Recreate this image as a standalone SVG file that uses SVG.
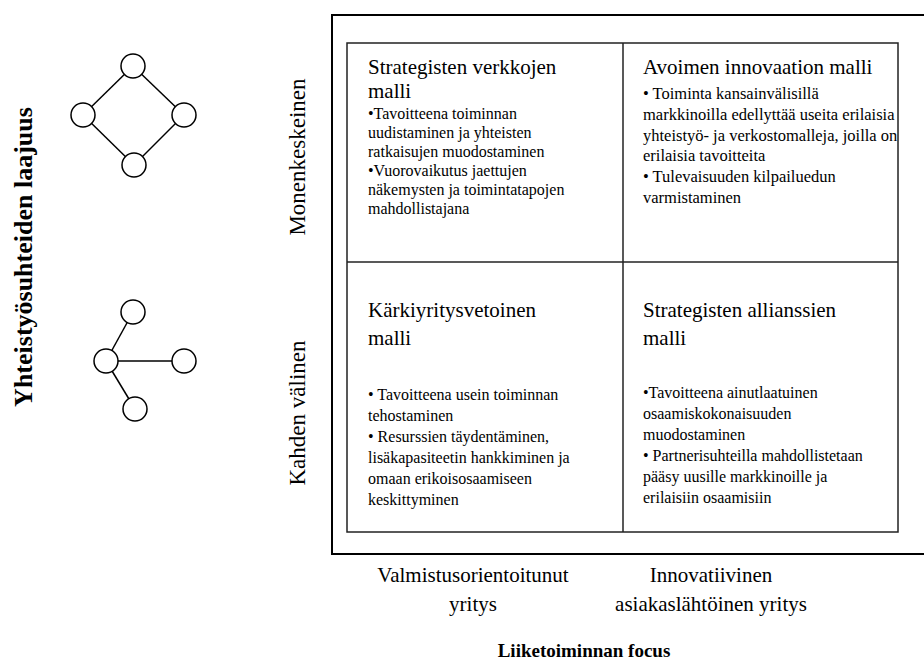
<svg xmlns="http://www.w3.org/2000/svg" width="924" height="666" viewBox="0 0 924 666">
<style>
text{font-family:"Liberation Serif","Times New Roman",serif;fill:#000}
.t{font-size:21px}
.b{font-size:16px}
.br{font-size:16.5px}
.ax{font-size:23px}
.lbl{font-size:21px;text-anchor:middle}
.bold{font-weight:bold}
.cell{fill:none;stroke:#222;stroke-width:1.5}
.node{fill:#fff;stroke:#000;stroke-width:1.5}
.edge{stroke:#000;stroke-width:1.5}
</style>
<rect width="924" height="666" fill="#fff"/>
<g id="frame">
<path d="M930 15 H332 V554 H930" fill="none" stroke="#000" stroke-width="2"/>
<rect class="cell" x="347" y="43" width="551" height="489"/>
<line class="cell" x1="623" y1="43" x2="623" y2="532"/>
<line class="cell" x1="347" y1="262" x2="898" y2="262"/>
</g>
<g id="connectors">
<line class="edge" x1="133" y1="66" x2="83" y2="115"/>
<line class="edge" x1="133" y1="66" x2="184" y2="115"/>
<line class="edge" x1="83" y1="115" x2="134" y2="165"/>
<line class="edge" x1="184" y1="115" x2="134" y2="165"/>
<line class="edge" x1="106" y1="361" x2="133" y2="312"/>
<line class="edge" x1="106" y1="361" x2="184" y2="361"/>
<line class="edge" x1="106" y1="361" x2="135" y2="409"/>
</g>
<g id="icon-multi">
<circle class="node" cx="133" cy="66" r="12"/>
<circle class="node" cx="83" cy="115" r="12"/>
<circle class="node" cx="184" cy="115" r="12"/>
<circle class="node" cx="134" cy="165" r="12"/>
</g>
<g id="icon-bilateral">
<circle class="node" cx="133" cy="312" r="12"/>
<circle class="node" cx="106" cy="361" r="12"/>
<circle class="node" cx="184" cy="361" r="12"/>
<circle class="node" cx="135" cy="409" r="12"/>
</g>
<g id="q-top-left">
<text class="t" x="368" y="74">Strategisten verkkojen</text>
<text class="t" x="368" y="98">malli</text>
<text class="b" x="368" y="119">•Tavoitteena toiminnan</text>
<text class="b" x="368" y="138">uudistaminen ja yhteisten</text>
<text class="b" x="368" y="157">ratkaisujen muodostaminen</text>
<text class="b" x="368" y="176">•Vuorovaikutus jaettujen</text>
<text class="b" x="368" y="195">näkemysten ja toimintatapojen</text>
<text class="b" x="368" y="214">mahdollistajana</text>
</g>
<g id="q-top-right">
<text class="t" x="643" y="74">Avoimen innovaation malli</text>
<text class="br" x="643" y="99">• Toiminta kansainvälisillä</text>
<text class="br" x="643" y="120">markkinoilla edellyttää useita erilaisia</text>
<text class="br" x="643" y="141">yhteistyö- ja verkostomalleja, joilla on</text>
<text class="br" x="643" y="161">erilaisia tavoitteita</text>
<text class="br" x="643" y="182">• Tulevaisuuden kilpailuedun</text>
<text class="br" x="643" y="203">varmistaminen</text>
</g>
<g id="q-bottom-left">
<text class="t" x="368" y="317">Kärkiyritysvetoinen</text>
<text class="t" x="368" y="345">malli</text>
<text class="b" x="368" y="400">• Tavoitteena usein toiminnan</text>
<text class="b" x="368" y="421">tehostaminen</text>
<text class="b" x="368" y="442">• Resurssien täydentäminen,</text>
<text class="b" x="368" y="463">lisäkapasiteetin hankkiminen ja</text>
<text class="b" x="368" y="484">omaan erikoisosaamiseen</text>
<text class="b" x="368" y="505">keskittyminen</text>
</g>
<g id="q-bottom-right">
<text class="t" x="643" y="317">Strategisten allianssien</text>
<text class="t" x="643" y="345">malli</text>
<text class="b" x="643" y="398">•Tavoitteena ainutlaatuinen</text>
<text class="b" x="643" y="419">osaamiskokonaisuuden</text>
<text class="b" x="643" y="440">muodostaminen</text>
<text class="b" x="643" y="461">• Partnerisuhteilla mahdollistetaan</text>
<text class="b" x="643" y="482">pääsy uusille markkinoille ja</text>
<text class="b" x="643" y="503">erilaisiin osaamisiin</text>
</g>
<g id="axis-y">
<text class="bold" font-size="26" text-anchor="middle" x="32" y="257" transform="rotate(-90 32 257)">Yhteistyösuhteiden laajuus</text>
<text class="ax" text-anchor="middle" x="305" y="157" transform="rotate(-90 305 157)">Monenkeskeinen</text>
<text class="ax" text-anchor="middle" x="305" y="413" transform="rotate(-90 305 413)">Kahden välinen</text>
</g>
<g id="axis-x">
<text class="lbl" x="473" y="582">Valmistusorientoitunut</text>
<text class="lbl" x="473" y="611">yritys</text>
<text class="lbl" x="711" y="582">Innovatiivinen</text>
<text class="lbl" x="711" y="611">asiakaslähtöinen yritys</text>
<text class="bold" font-size="19" text-anchor="middle" x="584" y="657">Liiketoiminnan focus</text>
</g>
</svg>
